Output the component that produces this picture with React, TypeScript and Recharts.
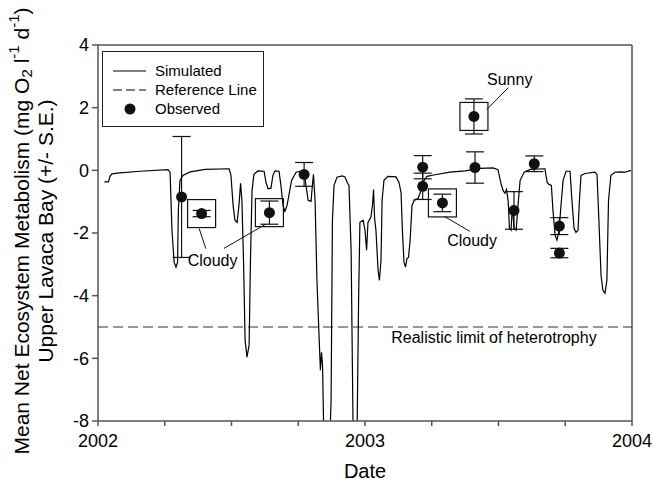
import React from 'react';
import {
  ComposedChart,
  Line,
  Scatter,
  ErrorBar,
  XAxis,
  YAxis,
  ReferenceLine,
  ReferenceDot,
  Legend,
} from 'recharts';

// simulated daily metabolism (decimal year, mg O2/l/d)
const simYears = [
  2002.024, 2002.039, 2002.045, 2002.052, 2002.082, 2002.157, 2002.262, 2002.27, 2002.277, 2002.285,
  2002.292, 2002.298, 2002.301, 2002.307, 2002.318, 2002.345, 2002.401, 2002.491, 2002.498, 2002.506,
  2002.513, 2002.521, 2002.528, 2002.534, 2002.539, 2002.545, 2002.551, 2002.558, 2002.566, 2002.571,
  2002.577, 2002.584, 2002.599, 2002.622, 2002.629, 2002.637, 2002.648, 2002.655, 2002.663, 2002.678,
  2002.685, 2002.693, 2002.7, 2002.708, 2002.715, 2002.725, 2002.742, 2002.757, 2002.772, 2002.779,
  2002.787, 2002.798, 2002.803, 2002.807, 2002.813, 2002.82, 2002.83, 2002.833, 2002.837, 2002.841,
  2002.845, 2002.854, 2002.865, 2002.873, 2002.878, 2002.884, 2002.895, 2002.914, 2002.925, 2002.933,
  2002.94, 2002.948, 2002.955, 2002.961, 2002.97, 2002.976, 2002.981, 2002.993, 2003.0, 2003.006,
  2003.011, 2003.022, 2003.028, 2003.032, 2003.036, 2003.041, 2003.049, 2003.054, 2003.06, 2003.064,
  2003.071, 2003.086, 2003.116, 2003.127, 2003.135, 2003.14, 2003.146, 2003.152, 2003.157, 2003.163,
  2003.169, 2003.176, 2003.184, 2003.199, 2003.21, 2003.217, 2003.232, 2003.262, 2003.318, 2003.375,
  2003.431, 2003.479, 2003.498, 2003.509, 2003.517, 2003.524, 2003.53, 2003.536, 2003.541, 2003.547,
  2003.552, 2003.558, 2003.566, 2003.573, 2003.581, 2003.596, 2003.618, 2003.674, 2003.682, 2003.689,
  2003.698, 2003.704, 2003.712, 2003.719, 2003.727, 2003.734, 2003.742, 2003.753, 2003.768, 2003.775,
  2003.783, 2003.79, 2003.798, 2003.803, 2003.809, 2003.824, 2003.861, 2003.869, 2003.876, 2003.884,
  2003.891, 2003.899, 2003.906, 2003.912, 2003.921, 2003.936, 2003.955, 2003.974, 2003.996,
];
const simValues = [
  -0.37, -0.37, -0.19, -0.11, -0.08, -0.03, 0.02, -0.06, -1.91, -2.93,
  -3.09, -2.93, -1.28, -0.32, -0.16, -0.05, 0.03, 0.05, -0.16, -1.12,
  -1.59, -1.66, -1.12, -0.41, -0.96, -2.87, -5.42, -5.96, -5.58, -2.87,
  -0.64, -0.13, -0.02, -0.03, -0.38, -0.59, -0.57, -0.16, -0.02, -0.03,
  -0.48, -1.12, -1.31, -1.12, -0.8, -0.32, -0.06, -0.03, -0.06, -0.48,
  -0.96, -0.99, -0.48, -0.13, -0.96, -3.51, -5.74, -6.38, -5.81, -6.22,
  -8.13, -9.5, -9.5, -7.34, -1.59, -0.48, -0.22, -0.18, -0.21, -0.38,
  -0.48, -2.55, -7.97, -9.5, -8.6, -4.15, -1.66, -1.59, -1.91, -2.55,
  -1.66, -1.5, -1.12, -0.61, -1.53, -1.91, -3.19, -3.51, -2.87, -0.96,
  -0.32, -0.19, -0.21, -0.38, -0.7, -1.91, -2.93, -3.09, -2.81, -2.78,
  -2.23, -1.12, -0.96, -0.89, -0.64, -0.38, -0.19, -0.14, -0.06, -0.02,
  0.06, 0.08, 0.02, -0.41, -0.64, -0.73, -0.61, -0.96, -1.85, -1.91,
  -1.12, -1.85, -1.91, -1.12, -0.32, -0.06, 0.03, 0.05, -0.38, -0.45,
  -0.48, -1.28, -2.07, -2.23, -1.91, -1.12, -0.32, -0.03, -0.03, -0.96,
  -1.85, -1.98, -1.91, -0.96, -0.16, -0.1, -0.06, -0.13, -1.59, -3.35,
  -3.83, -3.92, -3.51, -0.96, -0.16, -0.06, -0.05, -0.06, 0.0,
];

// observed means with standard errors
const obsYears = [2002.313, 2002.388, 2002.642, 2002.772, 2003.216, 2003.216, 2003.29, 2003.408, 2003.412, 2003.558, 2003.634, 2003.728, 2003.728];
const obsValues = [-0.85, -1.38, -1.35, -0.13, 0.1, -0.51, -1.04, 1.72, 0.09, -1.28, 0.21, -1.78, -2.64];
const obsErrors = [1.93, 0.1, 0.37, 0.38, 0.37, 0.42, 0.28, 0.56, 0.5, 0.6, 0.25, 0.27, 0.15];
const obsBoxed = [false, true, true, false, false, false, true, true, false, false, false, false, false];

const xTicks = [2002, 2002.25, 2002.5, 2002.75, 2003, 2003.25, 2003.5, 2003.75, 2004];
const yTicks = [-8, -6, -4, -2, 0, 2, 4];
const heterotrophyLimit = -5;

// text notes and their leader lines (data units)
const noteTexts = ['Cloudy', 'Cloudy', 'Sunny', 'Realistic limit of heterotrophy'];
const noteYears = [2002.429, 2003.401, 2003.542, 2003.483];
const noteValues = [-2.87, -2.23, 2.9, -5.33];
const leaderFrom = [
  { x: 2002.379, y: -1.86 },
  { x: 2002.628, y: -1.72 },
  { x: 2003.297, y: -1.47 },
  { x: 2003.456, y: 1.94 },
];
const leaderTo = [
  { x: 2002.404, y: -2.5 },
  { x: 2002.472, y: -2.49 },
  { x: 2003.393, y: -1.95 },
  { x: 2003.537, y: 2.64 },
];

const simData = simYears.map((x, i) => ({ x, v: simValues[i] }));
const obsData = obsYears.map((x, i) => ({ x, v: obsValues[i], err: obsErrors[i], boxed: obsBoxed[i] }));

const FONT = '"Liberation Sans", Arial, sans-serif';
const AXIS = '#555';

const ObsDot = (props: any) => {
  const { cx, cy, payload } = props;
  return (
    <g>
      {payload.boxed && (
        <rect x={cx - 14} y={cy - 14} width={28} height={28} fill="none" stroke="#111" strokeWidth={1.2} />
      )}
      <circle cx={cx} cy={cy} r={5.5} fill="#111" />
    </g>
  );
};

const YTitle = (props: any) => {
  const vb = props.viewBox || {};
  const cy = (vb.y ?? 45) + (vb.height ?? 376) / 2 - 2;
  const x1 = 21;
  const x2 = 45;
  return (
    <g fontFamily={FONT} fontSize={21} fill="#000">
      <text x={x1} y={cy} transform={`rotate(-90 ${x1} ${cy})`} textAnchor="middle" dominantBaseline="central">
        Mean Net Ecosystem Metabolism (mg O
        <tspan dy={5} fontSize={15}>2</tspan>
        <tspan dy={-5}>{' l'}</tspan>
        <tspan dy={-8} fontSize={15}>-1</tspan>
        <tspan dy={8}>{' d'}</tspan>
        <tspan dy={-8} fontSize={15}>-1</tspan>
        <tspan dy={8}>)</tspan>
      </text>
      <text x={x2} y={cy} transform={`rotate(-90 ${x2} ${cy})`} textAnchor="middle" dominantBaseline="central">
        Upper Lavaca Bay (+/- S.E.)
      </text>
    </g>
  );
};

const LegendBox = () => {
  const row: React.CSSProperties = { display: 'flex', alignItems: 'center', height: 19 };
  const text: React.CSSProperties = { marginLeft: 9, color: '#000' };
  return (
    <div
      style={{
        width: 162,
        height: 76,
        boxSizing: 'border-box',
        border: '1.2px solid #222',
        background: '#fff',
        fontFamily: FONT,
        fontSize: 15,
        padding: '9px 0 0 10px',
        lineHeight: '19px',
      }}
    >
      <div style={row}>
        <svg width={33} height={10}>
          <line x1={0} y1={5} x2={33} y2={5} stroke="#000" strokeWidth={1.2} />
        </svg>
        <span style={text}>Simulated</span>
      </div>
      <div style={row}>
        <svg width={33} height={10}>
          <line x1={0} y1={5} x2={33} y2={5} stroke="#000" strokeWidth={1.2} strokeDasharray="9 4" />
        </svg>
        <span style={text}>Reference Line</span>
      </div>
      <div style={row}>
        <svg width={33} height={12}>
          <circle cx={17} cy={6} r={5.5} fill="#111" />
        </svg>
        <span style={text}>Observed</span>
      </div>
    </div>
  );
};

export default function App() {
  return (
    <div style={{ position: 'absolute', left: 0, top: 0, background: '#fff' }}>
      <ComposedChart width={653} height={481} margin={{ top: 45, right: 21, bottom: 0, left: 38 }}>
        <XAxis
          type="number"
          dataKey="x"
          domain={[2002, 2004]}
          ticks={xTicks}
          interval={0}
          allowDataOverflow
          tickFormatter={(v: number) => (Number.isInteger(v) ? String(v) : '')}
          tickSize={5}
          tickMargin={8}
          height={60}
          stroke={AXIS}
          strokeWidth={1.5}
          tick={{ fill: '#000', fontSize: 18, fontFamily: FONT }}
          label={{ value: 'Date', position: 'insideBottom', offset: 3, fontSize: 20, fill: '#000', fontFamily: FONT }}
        />
        <YAxis
          type="number"
          dataKey="v"
          domain={[-8, 4]}
          ticks={yTicks}
          interval={0}
          allowDataOverflow
          width={60}
          tickSize={6}
          tickMargin={3}
          stroke={AXIS}
          strokeWidth={1.5}
          tick={{ fill: '#000', fontSize: 18, fontFamily: FONT }}
          label={{ content: <YTitle /> }}
        />
        <ReferenceLine y={4} stroke={AXIS} strokeWidth={1.5} />
        <ReferenceLine x={2004} stroke={AXIS} strokeWidth={1.5} />
        <ReferenceLine y={heterotrophyLimit} stroke="#333" strokeWidth={1.2} strokeDasharray="10 5" />
        {leaderFrom.map((p, i) => (
          <ReferenceLine key={'lead' + i} segment={[p, leaderTo[i]]} stroke="#111" strokeWidth={1} />
        ))}
        {noteTexts.map((t, i) => (
          <ReferenceDot
            key={'note' + i}
            x={noteYears[i]}
            y={noteValues[i]}
            r={1}
            fill="none"
            stroke="none"
            label={{ value: t, position: 'center', fontSize: 16, fill: '#000', fontFamily: FONT }}
          />
        ))}
        <Line
          data={simData}
          dataKey="v"
          type="linear"
          stroke="#000"
          strokeWidth={1.2}
          dot={false}
          activeDot={false}
          isAnimationActive={false}
        />
        <Scatter data={obsData} dataKey="v" shape={<ObsDot />} isAnimationActive={false}>
          <ErrorBar dataKey="err" direction="y" width={9} stroke="#111" strokeWidth={1.2} />
        </Scatter>
        <Legend
          layout="vertical"
          align="center"
          verticalAlign="middle"
          content={<LegendBox />}
          wrapperStyle={{ position: 'absolute', left: 102, top: 51, width: 162, height: 76 }}
        />
      </ComposedChart>
    </div>
  );
}
